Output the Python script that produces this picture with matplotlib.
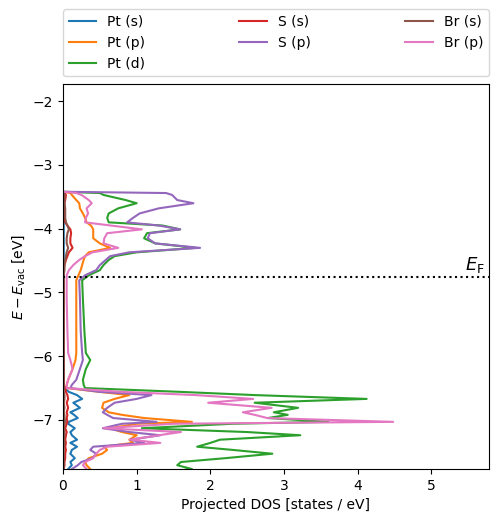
import matplotlib
matplotlib.use("Agg")
import matplotlib.pyplot as plt

energy = [-3.42, -3.44, -3.47, -3.55, -3.60, -3.68, -3.76, -3.83, -3.90, -3.95,
          -4.01, -4.07, -4.15, -4.23, -4.30, -4.37, -4.43, -4.49, -4.57, -4.65,
          -4.73, -4.81, -5.10, -5.60, -5.95, -6.06, -6.20, -6.37, -6.45, -6.50,
          -6.56, -6.61, -6.67, -6.73, -6.81, -6.88, -6.92, -6.97, -7.03, -7.06,
          -7.13, -7.19, -7.24, -7.31, -7.36, -7.42, -7.47, -7.53, -7.60, -7.66,
          -7.71, -7.77, -7.85]

pt_s = [0, 0.01, 0.01, 0.01, 0.01, 0.01, 0.01, 0.01, 0.01, 0.01,
        0.01, 0.01, 0.01, 0.01, 0.01, 0.01, 0.01, 0.01, 0.01, 0.01,
        0.01, 0.01, 0.01, 0.01, 0.01, 0.01, 0.01, 0.01, 0.01, 0.02,
        0.08, 0.19, 0.26, 0.14, 0.23, 0.10, 0.15, 0.20, 0.08, 0.07,
        0.16, 0.10, 0.12, 0.19, 0.10, 0.19, 0.12, 0.10, 0.16, 0.10,
        0.12, 0.07, 0.07]
pt_p = [0, 0.10, 0.12, 0.18, 0.22, 0.23, 0.27, 0.30, 0.32, 0.38,
        0.41, 0.41, 0.41, 0.50, 0.64, 0.35, 0.30, 0.28, 0.26, 0.24,
        0.21, 0.18, 0.18, 0.18, 0.18, 0.17, 0.13, 0.07, 0.05, 0.05,
        0.50, 0.90, 0.70, 0.55, 0.53, 0.62, 0.80, 1.10, 1.75, 1.00,
        0.64, 0.80, 1.00, 0.90, 0.95, 0.55, 0.60, 0.53, 0.35, 0.30,
        0.32, 0.37, 0.35]
pt_d = [0, 0.50, 0.55, 0.85, 1.00, 0.75, 0.62, 0.60, 0.62, 1.35,
        1.59, 1.14, 1.10, 1.25, 1.80, 1.00, 0.70, 0.62, 0.55, 0.50,
        0.35, 0.26, 0.27, 0.29, 0.31, 0.37, 0.31, 0.27, 0.28, 0.30,
        1.60, 2.60, 4.12, 2.60, 3.19, 2.86, 3.05, 2.78, 3.60, 2.30,
        1.07, 2.50, 3.22, 2.13, 2.00, 1.82, 2.30, 2.84, 2.20, 1.60,
        1.55, 1.75, 1.20]
s_s = [0, 0.02, 0.04, 0.03, 0.02, 0.02, 0.02, 0.02, 0.03, 0.06,
       0.10, 0.11, 0.10, 0.10, 0.13, 0.08, 0.06, 0.04, 0.02, 0.01,
       0.01, 0.01, 0.01, 0.01, 0.01, 0.01, 0.01, 0.01, 0.01, 0.03,
       0.04, 0.06, 0.07, 0.05, 0.07, 0.05, 0.06, 0.05, 0.06, 0.05,
       0.03, 0.05, 0.04, 0.03, 0.04, 0.03, 0.04, 0.03, 0.03, 0.02,
       0.02, 0.01, 0.01]
s_p = [0, 1.40, 1.48, 1.55, 1.77, 1.30, 1.04, 0.95, 0.87, 1.30,
       1.59, 1.18, 1.15, 1.25, 1.86, 0.90, 0.64, 0.58, 0.50, 0.45,
       0.30, 0.22, 0.23, 0.24, 0.26, 0.27, 0.23, 0.18, 0.12, 0.10,
       0.50, 1.20, 1.00, 0.70, 0.60, 0.54, 0.60, 0.68, 1.27, 0.80,
       0.54, 0.90, 1.32, 0.91, 1.10, 0.41, 0.37, 0.45, 0.40, 0.25,
       0.20, 0.12, 0.10]
br_s = [0, 0.02, 0.02, 0.02, 0.02, 0.03, 0.03, 0.03, 0.04, 0.06,
        0.08, 0.06, 0.05, 0.05, 0.07, 0.05, 0.04, 0.03, 0.02, 0.02,
        0.01, 0.01, 0.01, 0.01, 0.01, 0.01, 0.01, 0.01, 0.01, 0.01,
        0.01, 0.02, 0.02, 0.01, 0.02, 0.01, 0.02, 0.02, 0.03, 0.02,
        0.01, 0.02, 0.02, 0.01, 0.02, 0.01, 0.01, 0.01, 0.01, 0.01,
        0.01, 0.01, 0.01]
br_p = [0, 0.18, 0.25, 0.35, 0.39, 0.32, 0.34, 0.31, 0.30, 0.65,
        1.07, 0.60, 0.56, 0.55, 0.75, 0.40, 0.30, 0.22, 0.14, 0.08,
        0.05, 0.05, 0.05, 0.06, 0.07, 0.10, 0.13, 0.07, 0.05, 0.05,
        0.80, 1.80, 2.58, 1.97, 2.83, 2.44, 2.60, 2.77, 4.48, 1.50,
        0.55, 1.60, 1.30, 0.91, 1.32, 0.60, 0.50, 0.45, 0.41, 0.30,
        0.27, 0.32, 0.30]

series = [("Pt (s)", pt_s), ("Pt (p)", pt_p), ("Pt (d)", pt_d),
          ("S (s)", s_s), ("S (p)", s_p), ("Br (s)", br_s), ("Br (p)", br_p)]

fermi = -4.75

fig = plt.figure(figsize=(4.98, 5.22), dpi=100)
ax = fig.add_axes([0.1265, 0.1015, 0.8554, 0.7375])
for label, vals in series:
    ax.plot(vals, energy, label=label, lw=1.5)
ax.axhline(fermi, color="k", ls=":", lw=1.5)
ax.text(5.45, fermi + 0.03, r"$E_\mathrm{F}$", fontsize=13, va="bottom", ha="left")
ax.set_xlim(0, 5.78)
ax.set_ylim(-7.77, -1.73)
ax.set_xlabel("Projected DOS [states / eV]")
ax.set_ylabel(r"$E - E_\mathrm{vac}$ [eV]")
ax.legend(bbox_to_anchor=(0, 1.02, 1, 0.2), loc="lower left", mode="expand",
          ncol=3, borderaxespad=0)
fig.savefig("out.png", dpi=100)
